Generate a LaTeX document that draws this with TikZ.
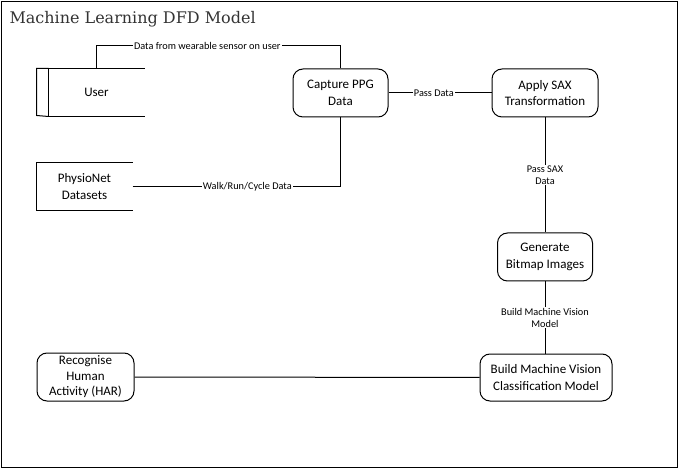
\documentclass[tikz,border=0pt]{standalone}
\usepackage{fontspec}
\setmainfont{Carlito}
\newfontfamily\titlefont{DejaVu Serif}
\tikzset{
  proc/.style={draw,rounded corners=10pt,align=center,minimum width=95pt,minimum height=48pt,inner sep=1pt,font=\fontsize{13}{16.5}\selectfont},
  store/.style={align=center,minimum width=95pt,minimum height=47pt,inner sep=1pt,font=\fontsize{13}{16.5}\selectfont},
  lbl/.style={fill=white,inner sep=1pt,align=center,font=\fontsize{10.3}{12}\selectfont}
}
\begin{document}
\begin{tikzpicture}[x=1pt,y=-1pt,line width=1pt]
\useasboundingbox (0,0) rectangle (680,470);
\draw (1.5,1.5) rectangle (677.5,467.5);
\node[anchor=base west,inner sep=0pt,text=black!80,font=\titlefont\fontsize{16}{18}\selectfont] (title) at (9,24) {Machine Learning DFD Model};
\node[store] (user) at (96.5,92.5) {User};
\draw (user.north east) -- (user.north west) -- (user.south west) -- (user.south east);
\draw (user.north west) -- ++(-12,0) -- ++(0,47) -- (user.south west);
\node[store] (phys) at (84.5,186.5) {PhysioNet\\Datasets};
\draw (phys.north east) -- (phys.north west) -- (phys.south west) -- (phys.south east);
\node[proc] (cap) at (340.5,93) {Capture PPG\\Data};
\node[proc,minimum width=106pt] (sax) at (545,93) {Apply SAX\\Transformation};
\node[proc] (bmp) at (545,257) {Generate\\Bitmap Images};
\node[proc,minimum width=132pt,minimum height=47pt] (cls) at (546,377.5) {Build Machine Vision\\Classification Model};
\node[proc,minimum width=97pt,font=\fontsize{13}{15.5}\selectfont] (har) at (85.5,377) {Recognise\\Human\\Activity (HAR)};
\draw (user.north) -- ++(0,-23) -| (cap.north) node[lbl,pos=0.227] {Data from wearable sensor on user};
\draw (phys.east) -| (cap.south) node[lbl,pos=0.276] {Walk/Run/Cycle Data};
\draw (cap) -- (sax) node[lbl,pos=0.44] {Pass Data};
\draw (sax) -- (bmp) node[lbl,midway] {Pass SAX\\Data};
\draw (bmp) -- (bmp |- cls.north) node[lbl,midway] {Build Machine Vision\\Model};
\draw (har) -- (cls);
\end{tikzpicture}
\end{document}
